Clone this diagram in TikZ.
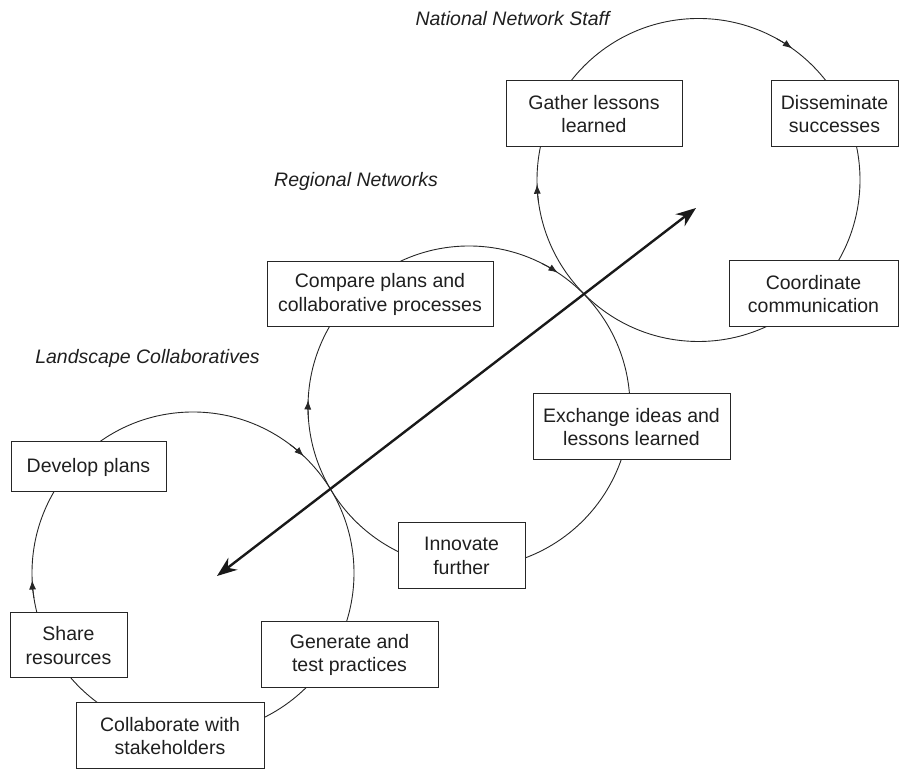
\documentclass[tikz,border=0pt]{standalone}
\usepackage{fontspec}
\setmainfont{Liberation Sans}
\usetikzlibrary{arrows.meta}
\begin{document}
\begin{tikzpicture}[x=1pt,y=1pt,
  box/.style={draw=black!85, line width=1pt, fill=white, inner sep=2pt, align=center,
    font=\fontsize{19.5}{23.5}\selectfont, text=black!88},
  lbl/.style={font=\fontsize{19.5}{23.5}\selectfont\itshape, text=black!88, inner sep=0pt},
  ring/.style={draw=black!85, line width=0.9pt},
  flow/.style={draw=black!85, line width=0.9pt, -{Latex[length=9.5pt,width=7pt]}},
  bigarrow/.style={draw=black!90, line width=2.4pt,
    {Stealth[length=20pt,width=15pt]}-{Stealth[length=20pt,width=15pt]}}]
\useasboundingbox (0,0) rectangle (899,770);

% circle centres
\coordinate (cT) at (698.5,590);
\coordinate (cM) at (469,363);
\coordinate (cB) at (193,197);

% circles
\draw[ring] (cT) circle[radius=161.5];
\draw[ring] (cM) circle[radius=161];
\draw[ring] (cB) circle[radius=161];

% direction markers (clockwise)
\draw[flow] ([shift={(61:161.5)}]cT) arc[start angle=61, end angle=54.5, radius=161.5];
\draw[flow] ([shift={(188:161.5)}]cT) arc[start angle=188, end angle=181.5, radius=161.5];
\draw[flow] ([shift={(63:161)}]cM) arc[start angle=63, end angle=56.5, radius=161];
\draw[flow] ([shift={(184:161)}]cM) arc[start angle=184, end angle=177.5, radius=161];
\draw[flow] ([shift={(53:161)}]cB) arc[start angle=53, end angle=46.5, radius=161];
\draw[flow] ([shift={(189:161)}]cB) arc[start angle=189, end angle=182.5, radius=161];

% big double arrow
\coordinate (aS) at (217,194);
\coordinate (aE) at (696,562);
\draw[bigarrow] (aS) -- (aE);

% group labels
\node[lbl] (lNat) at (512.5,751) {National Network Staff};
\node[lbl] (lReg) at (356,589) {Regional Networks};
\node[lbl] (lLand) at (147.5,412) {Landscape Collaboratives};

% boxes
\node[box, minimum width=176pt, minimum height=66pt] (gather) at (594,656) {Gather lessons\\learned};
\node[box, minimum width=127pt, minimum height=66pt] (dissem) at (834.5,656) {Disseminate\\successes};
\node[box, minimum width=169pt, minimum height=66pt] (coord) at (813.5,476) {Coordinate\\communication};
\node[box, minimum width=226pt, minimum height=65pt] (compare) at (380,475.5) {Compare plans and\\collaborative processes};
\node[box, minimum width=197pt, minimum height=66pt] (exchange) at (631.5,343) {Exchange ideas and\\lessons learned};
\node[box, minimum width=127pt, minimum height=66pt] (innovate) at (461.5,214) {Innovate\\further};
\node[box, minimum width=155pt, minimum height=50pt] (develop) at (88.5,303) {Develop plans};
\node[box, minimum width=117pt, minimum height=65pt] (share) at (68.5,124.5) {Share\\resources};
\node[box, minimum width=188pt, minimum height=66pt] (collab) at (170,34) {Collaborate with\\stakeholders};
\node[box, minimum width=177pt, minimum height=66pt] (generate) at (349.5,115) {Generate and\\test practices};
\end{tikzpicture}
\end{document}
